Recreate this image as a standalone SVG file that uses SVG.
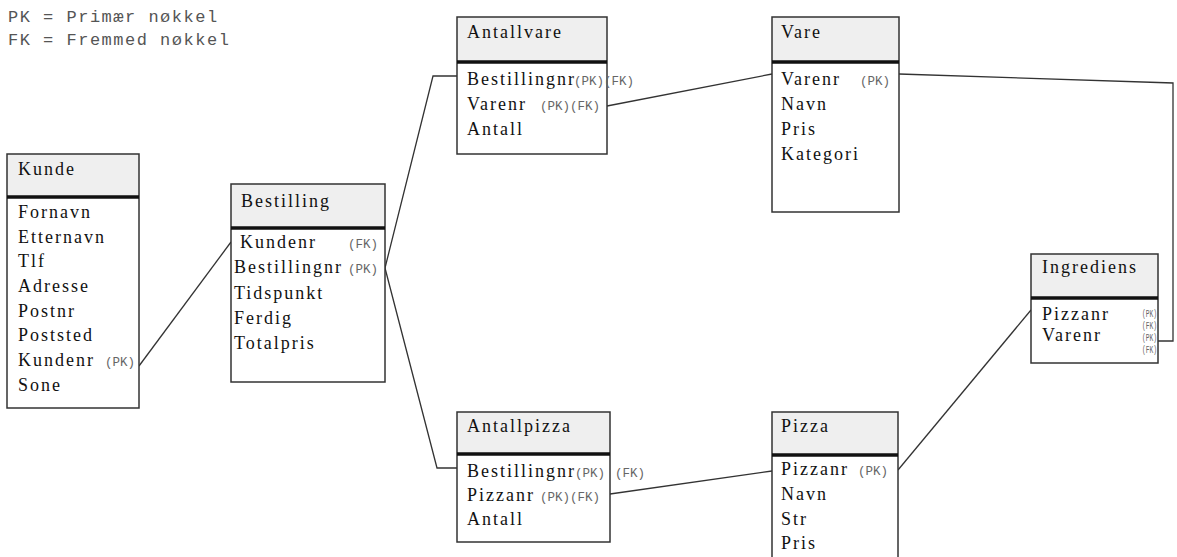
<svg xmlns="http://www.w3.org/2000/svg" width="1177" height="557" viewBox="0 0 1177 557">
<style>
.hd{fill:#efefef;stroke:none}
.bx{fill:none;stroke:#333;stroke-width:1.5}
.sep{stroke:#111;stroke-width:3.5}
.t{font-family:'Liberation Serif','Times New Roman',serif;font-size:18px;letter-spacing:2px;fill:#111}
.k{font-family:'Liberation Mono','Courier New',monospace;font-size:12.5px;fill:#666}
.ks{font-family:'Liberation Mono','Courier New',monospace;font-size:11px;fill:#666}
.lg{font-family:'Liberation Mono','Courier New',monospace;font-size:17px;letter-spacing:1.5px;fill:#555}
.c{fill:none;stroke:#333;stroke-width:1.3}
</style>
<rect width="1177" height="557" fill="#fff"/>
<g id="legend">
<text class="lg" x="8" y="22">PK = Primær nøkkel</text>
<text class="lg" x="8" y="45">FK = Fremmed nøkkel</text>
</g>
<g id="connectors">
<path class="c" d="M139,366 L231,242"/>
<path class="c" d="M385,268 L433,76 L457,76"/>
<path class="c" d="M385,268 L437,468 L457,468"/>
<path class="c" d="M607,106 L772,74"/>
<path class="c" d="M610,494 L772,471"/>
<path class="c" d="M899,74 L1173,83 L1173,341 L1158,341"/>
<path class="c" d="M898,470 L1031,310"/>
</g>
<g id="kunde">
<rect x="7" y="154" width="132" height="254" fill="#fff"/>
<rect class="hd" x="7" y="154" width="132" height="43"/>
<rect class="bx" x="7" y="154" width="132" height="254"/>
<line class="sep" x1="7" y1="197" x2="139" y2="197"/>
<text class="t" x="18" y="175">Kunde</text>
<text class="t" x="18" y="218">Fornavn</text>
<text class="t" x="18" y="243">Etternavn</text>
<text class="t" x="18" y="267">Tlf</text>
<text class="t" x="18" y="292">Adresse</text>
<text class="t" x="18" y="317">Postnr</text>
<text class="t" x="18" y="341">Poststed</text>
<text class="t" x="18" y="366">Kundenr</text>
<text class="k" x="105" y="366">(PK)</text>
<text class="t" x="18" y="391">Sone</text>
</g>
<g id="bestilling">
<rect x="231" y="184" width="154" height="198" fill="#fff"/>
<rect class="hd" x="231" y="184" width="154" height="44"/>
<rect class="bx" x="231" y="184" width="154" height="198"/>
<line class="sep" x1="231" y1="228" x2="385" y2="228"/>
<text class="t" x="241" y="207">Bestilling</text>
<text class="t" x="240" y="248">Kundenr</text>
<text class="k" x="348" y="248">(FK)</text>
<text class="t" x="234" y="273">Bestillingnr</text>
<text class="k" x="348" y="273">(PK)</text>
<text class="t" x="234" y="299">Tidspunkt</text>
<text class="t" x="234" y="324">Ferdig</text>
<text class="t" x="234" y="349">Totalpris</text>
</g>
<g id="antallvare">
<rect x="457" y="17" width="150" height="137" fill="#fff"/>
<rect class="hd" x="457" y="17" width="150" height="45"/>
<rect class="bx" x="457" y="17" width="150" height="137"/>
<line class="sep" x1="457" y1="62" x2="607" y2="62"/>
<text class="t" x="467" y="38">Antallvare</text>
<text class="t" x="467" y="85">Bestillingnr</text>
<text class="k" x="574" y="85">(PK)(FK)</text>
<text class="t" x="467" y="110">Varenr</text>
<text class="k" x="540" y="110">(PK)(FK)</text>
<text class="t" x="467" y="135">Antall</text>
</g>
<g id="vare">
<rect x="772" y="17" width="127" height="195" fill="#fff"/>
<rect class="hd" x="772" y="17" width="127" height="45"/>
<rect class="bx" x="772" y="17" width="127" height="195"/>
<line class="sep" x1="772" y1="62" x2="899" y2="62"/>
<text class="t" x="781" y="38">Vare</text>
<text class="t" x="781" y="85">Varenr</text>
<text class="k" x="860" y="85">(PK)</text>
<text class="t" x="781" y="110">Navn</text>
<text class="t" x="781" y="135">Pris</text>
<text class="t" x="781" y="160">Kategori</text>
</g>
<g id="ingrediens">
<rect x="1031" y="254" width="127" height="109" fill="#fff"/>
<rect class="hd" x="1031" y="254" width="127" height="44"/>
<rect class="bx" x="1031" y="254" width="127" height="109"/>
<line class="sep" x1="1031" y1="298" x2="1158" y2="298"/>
<text class="t" x="1042" y="273">Ingrediens</text>
<text class="t" x="1042" y="320">Pizzanr</text>
<text class="t" x="1042" y="341">Varenr</text>
<text class="ks" x="1142" y="317" textLength="15" lengthAdjust="spacingAndGlyphs">(PK)</text>
<text class="ks" x="1142" y="329" textLength="15" lengthAdjust="spacingAndGlyphs">(FK)</text>
<text class="ks" x="1142" y="341" textLength="15" lengthAdjust="spacingAndGlyphs">(PK)</text>
<text class="ks" x="1142" y="353" textLength="15" lengthAdjust="spacingAndGlyphs">(FK)</text>
</g>
<g id="antallpizza">
<rect x="457" y="412" width="153" height="130" fill="#fff"/>
<rect class="hd" x="457" y="412" width="153" height="42"/>
<rect class="bx" x="457" y="412" width="153" height="130"/>
<line class="sep" x1="457" y1="454" x2="610" y2="454"/>
<text class="t" x="467" y="432">Antallpizza</text>
<text class="t" x="467" y="477">Bestillingnr</text>
<text class="k" x="575" y="477">(PK)</text>
<text class="k" x="615" y="477">(FK)</text>
<text class="t" x="467" y="501">Pizzanr</text>
<text class="k" x="540" y="501">(PK)(FK)</text>
<text class="t" x="467" y="525">Antall</text>
</g>
<g id="pizza">
<rect x="772" y="412" width="126" height="150" fill="#fff"/>
<rect class="hd" x="772" y="412" width="126" height="43"/>
<rect class="bx" x="772" y="412" width="126" height="150"/>
<line class="sep" x1="772" y1="455" x2="898" y2="455"/>
<text class="t" x="781" y="432">Pizza</text>
<text class="t" x="781" y="475">Pizzanr</text>
<text class="k" x="858" y="475">(PK)</text>
<text class="t" x="781" y="500">Navn</text>
<text class="t" x="781" y="525">Str</text>
<text class="t" x="781" y="549">Pris</text>
</g>
</svg>
